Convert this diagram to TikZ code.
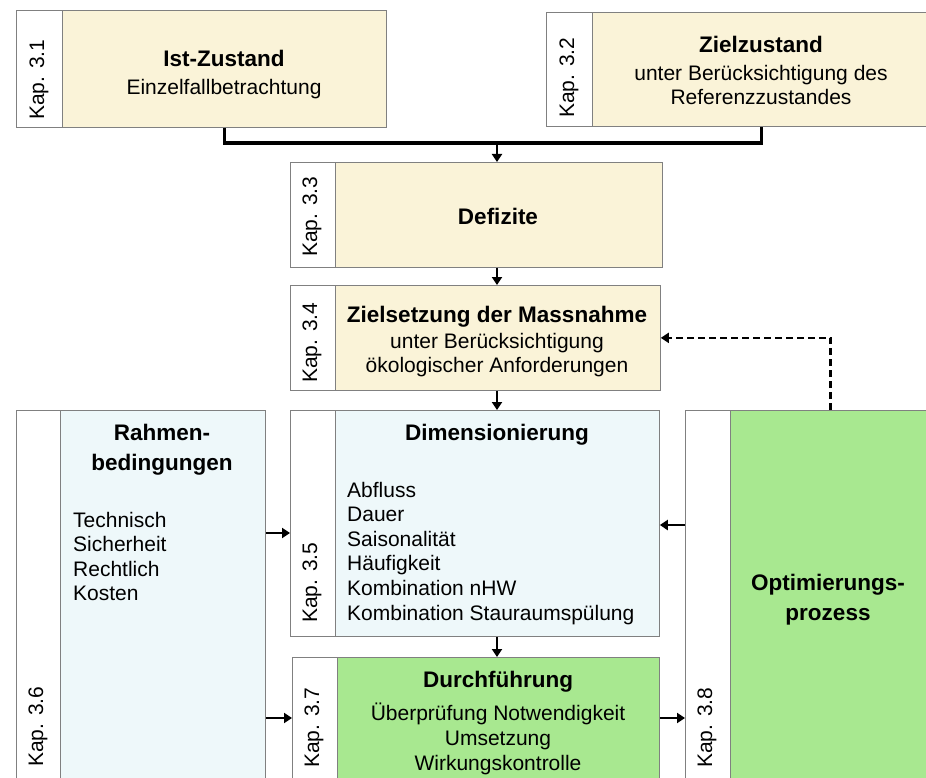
\documentclass[tikz,border=0pt]{standalone}
\usepackage{fontspec}
\setmainfont{Liberation Sans}
\usetikzlibrary{arrows.meta}
\definecolor{beige}{RGB}{250,243,216}
\definecolor{lightblue}{RGB}{238,248,250}
\definecolor{lightgreen}{RGB}{168,232,144}

\tikzset{
  box/.style={draw=black!50, line width=0.8pt, inner sep=0pt, anchor=north west},
  strip/.style={box, fill=white, minimum width=#1},
  kap/.style={rotate=90, anchor=west, inner sep=0pt, font=\fontsize{21}{21}\selectfont},
  ttl/.style={anchor=base, inner sep=0pt, font=\fontsize{22.5}{30}\selectfont\bfseries},
  txt/.style={anchor=base, inner sep=0pt, font=\fontsize{21}{25}\selectfont},
  item/.style={txt, anchor=base west},
  arr/.style={-{Triangle[width=10pt,length=8pt]}, line width=2.6pt},
  merge/.style={line width=3.2pt}
}

\begin{document}
\begin{tikzpicture}[x=1pt, y=-1pt]
\useasboundingbox (0,0) rectangle (926,778);
\clip (0,0) rectangle (926,778);

% top row
\node[strip=46pt, minimum height=117pt] (kap31) at (16,10) {};
\node[box, fill=beige, minimum width=324pt, minimum height=117pt] (ist) at (62,10) {};
\node[strip=46pt, minimum height=114pt] (kap32) at (546,12) {};
\node[box, fill=beige, minimum width=338pt, minimum height=114pt] (ziel) at (592,12) {};

% middle column
\node[strip=45pt, minimum height=105pt] (kap33) at (290,162) {};
\node[box, fill=beige, minimum width=327pt, minimum height=105pt] (def) at (335,162) {};
\node[strip=45pt, minimum height=105pt] (kap34) at (290,285) {};
\node[box, fill=beige, minimum width=325pt, minimum height=105pt] (zs) at (335,285) {};
\node[strip=45pt, minimum height=226pt] (kap35) at (290,410) {};
\node[box, fill=lightblue, minimum width=324pt, minimum height=226pt] (dim) at (335,410) {};
\node[strip=45pt, minimum height=128pt] (kap37) at (292,657) {};
\node[box, fill=lightgreen, minimum width=322pt, minimum height=128pt] (durch) at (337,657) {};

% side columns
\node[strip=44pt, minimum height=375pt] (kap36) at (16,410) {};
\node[box, fill=lightblue, minimum width=205pt, minimum height=375pt] (rahmen) at (60,410) {};
\node[strip=45pt, minimum height=375pt] (kap38) at (685,410) {};
\node[box, fill=lightgreen, minimum width=200pt, minimum height=375pt] (opt) at (730,410) {};

% chapter labels
\node[kap] at (39,120) {Kap. 3.1};
\node[kap] at (569,118) {Kap. 3.2};
\node[kap] at (312,257) {Kap. 3.3};
\node[kap] at (312,383) {Kap. 3.4};
\node[kap] at (312,623) {Kap. 3.5};
\node[kap] at (38,767) {Kap. 3.6};
\node[kap] at (314,768) {Kap. 3.7};
\node[kap] at (707,768) {Kap. 3.8};

% texts
\node[ttl] at (224,67) {Ist-Zustand};
\node[txt] at (224,95) {Einzelfallbetrachtung};
\node[ttl] at (761,53) {Zielzustand};
\node[txt] at (761,81) {unter Berücksichtigung des};
\node[txt] at (761,105) {Referenzzustandes};
\node[ttl] at (498,225) {Defizite};
\node[ttl] at (497,322) {Zielsetzung der Massnahme};
\node[txt] at (497,348) {unter Berücksichtigung};
\node[txt] at (497,372) {ökologischer Anforderungen};
\node[ttl] at (497,440) {Dimensionierung};
\foreach \t [count=\i from 0] in {Abfluss, Dauer, Saisonalität, Häufigkeit,
    Kombination nHW, Kombination Stauraumspülung}
  \node[item] at (347,{497+24.6*\i}) {\t};
\node[ttl] at (162,440) {Rahmen-};
\node[ttl] at (162,470) {bedingungen};
\foreach \t [count=\i from 0] in {Technisch, Sicherheit, Rechtlich, Kosten}
  \node[item] at (73,{527+24.5*\i}) {\t};
\node[ttl] at (498,687) {Durchführung};
\node[txt] at (498,720) {Überprüfung Notwendigkeit};
\node[txt] at (498,745) {Umsetzung};
\node[txt] at (498,770) {Wirkungskontrolle};
\node[ttl] at (828,590) {Optimierungs-};
\node[ttl] at (828,620) {prozess};

% connectors
\coordinate (join) at (497,143);
\draw[merge] (ist.south) |- (join) -| (ziel.south);
\draw[arr] (join) -- (join |- def.north);
\draw[arr] (def.south -| join) -- (zs.north -| join);
\draw[arr] (zs.south -| join) -- (dim.north -| join);
\draw[arr] (dim.south -| join) -- (durch.north -| join);
\draw[arr] (rahmen.east |- 0,533) -- (kap35.west |- 0,533);
\draw[arr] (rahmen.east |- 0,718) -- (kap37.west |- 0,718);
\draw[arr] (kap38.west |- 0,525) -- (dim.east |- 0,525);
\draw[arr] (durch.east |- 0,718) -- (kap38.west |- 0,718);
\draw[arr, dash pattern=on 7pt off 4pt] (opt.north) |- (zs.east);
\end{tikzpicture}
\end{document}
